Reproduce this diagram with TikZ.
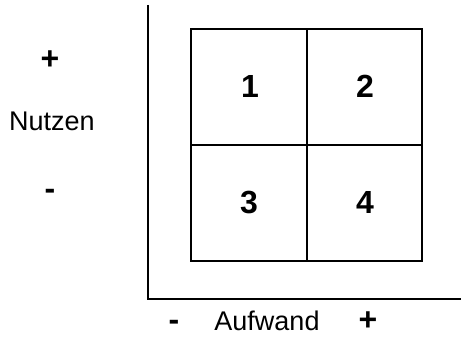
\documentclass[tikz,border=0pt]{standalone}
\usepackage{fontspec}
\setmainfont{Liberation Sans}
\begin{document}
\begin{tikzpicture}[x=1pt,y=-1pt,
  axis/.style={line width=1.8pt},
  gridline/.style={line width=1.3pt},
  lbl/.style={font=\fontsize{27}{30}\selectfont, inner sep=0pt, anchor=base, text depth=0pt},
  sgn/.style={font=\fontsize{32}{34}\selectfont\bfseries, inner sep=0pt, anchor=base, text depth=0pt},
  num/.style={font=\fontsize{32}{34}\selectfont\bfseries, inner sep=0pt, anchor=base}]
\useasboundingbox (0,0) rectangle (461,337);
\coordinate (top) at (148,5);
\coordinate (origin) at (148,299);
\coordinate (right) at (461,299);
\draw[axis] (top) -- (origin) -- (right);
\coordinate (tl) at (191,29);
\coordinate (br) at (422,261);
\draw[gridline] (tl) rectangle (br);
\coordinate (mt) at (307,29);
\coordinate (mb) at (307,261);
\coordinate (ml) at (191,145);
\coordinate (mr) at (422,145);
\draw[gridline] (mt) -- (mb);
\draw[gridline] (ml) -- (mr);
\node[num] (n1) at (250,98) {1};
\node[num] (n2) at (365,98) {2};
\node[num] (n3) at (249,213) {3};
\node[num] (n4) at (365,213) {4};
\node[sgn] (yplus) at (50,70) {+};
\node[lbl] (nutzen) at (52,131) {Nutzen};
\node[sgn] (yminus) at (50,199) {-};
\node[sgn] (xminus) at (174,330) {-};
\node[lbl] (aufwand) at (267,330) {Aufwand};
\node[sgn] (xplus) at (368,330) {+};
\end{tikzpicture}
\end{document}
